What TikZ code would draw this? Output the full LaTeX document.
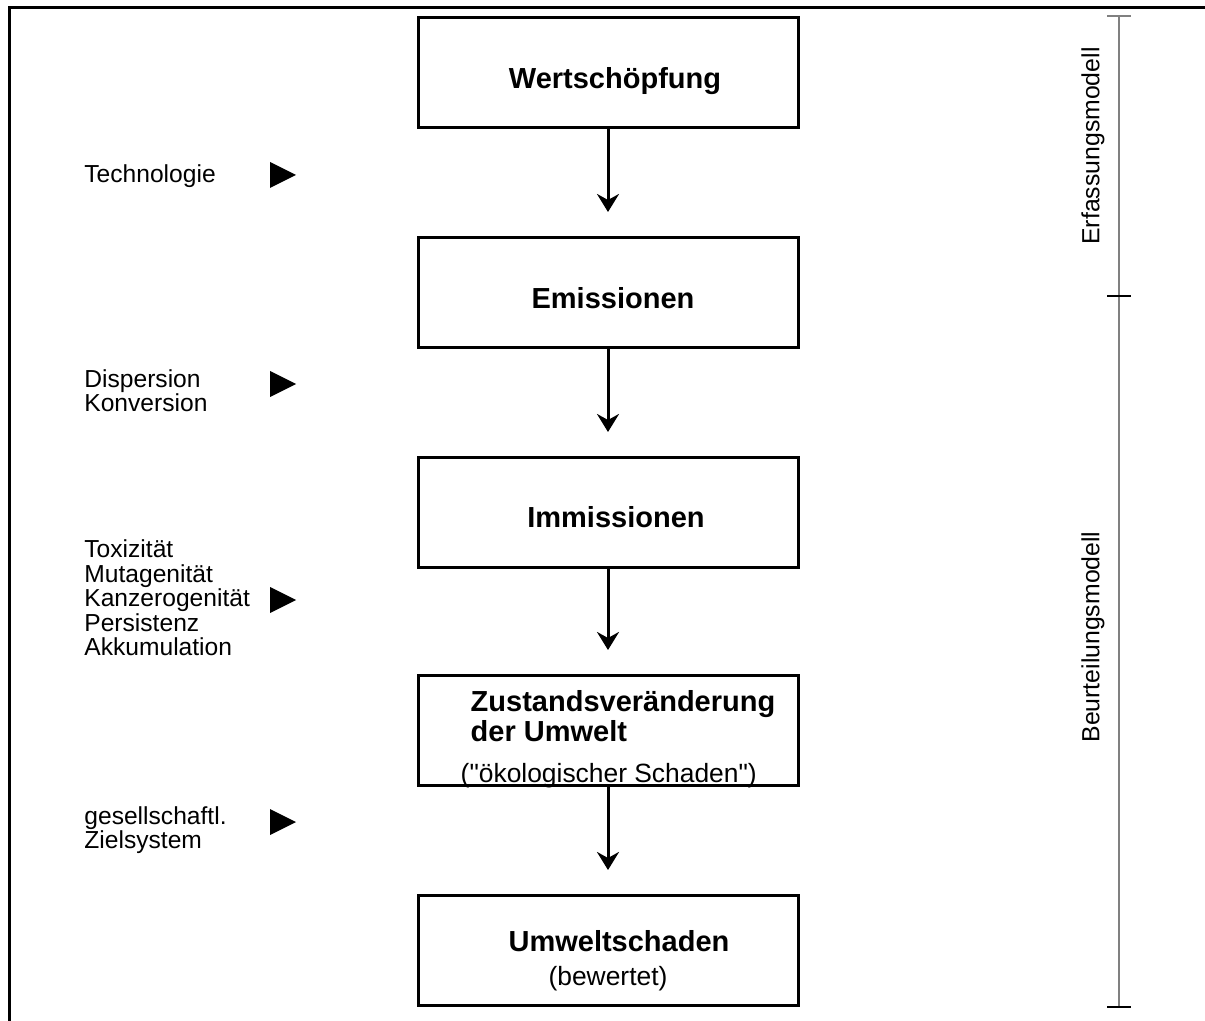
\documentclass[tikz,border=0pt]{standalone}
\usepackage{fontspec}
\setmainfont{Liberation Sans}
\usetikzlibrary{arrows.meta}
\tikzset{>/.tip={Stealth[length=9pt,width=11pt,inset=3pt]},
  box/.style={draw, line width=1.5pt, minimum width=190pt, minimum height=55pt, inner sep=0pt, align=center},
  boxtitle/.style={font=\fontsize{14.5}{17}\selectfont\bfseries},
  side/.style={anchor=west, align=left, inner sep=0pt, font=\fontsize{12.3}{12.25}\selectfont},
  flow/.style={->, line width=1.5pt, shorten >=12pt},
  pointer/.pic={\fill (0,-13) -- (26,0) -- (0,13) -- cycle;}}
\newcommand{\subtext}{\mdseries\fontsize{13.2}{13.2}\selectfont}
\newcommand{\boxtext}[3]{\hspace*{#1}\raisebox{-#2}[\height][\depth]{#3}}
\newcommand{\dquote}{\XeTeXglyph\XeTeXcharglyph"22\relax}

\begin{document}
\begin{tikzpicture}[x=0.5pt,y=-0.5pt]
\useasboundingbox (0,0) rectangle (1205,1021);
\draw[line width=1.5pt] (9,1030) -- (9,8) -- (1215,8);

\node[box, boxtitle] (wert) at (608,73)  {\boxtext{7pt}{4pt}{Wertschöpfung}};
\node[box, boxtitle] (emis) at (608,292.5)  {\boxtext{5pt}{3pt}{Emissionen}};
\node[box, boxtitle] (immi) at (608,512.5)  {\boxtext{8pt}{2.5pt}{Immissionen}};
\node[box, boxtitle, font=\fontsize{14.5}{14.5}\selectfont\bfseries] (zust) at (608,730.5)
  {\boxtext{15pt}{5pt}{\begin{tabular}{@{}l@{}}Zustandsveränderung\\der Umwelt\\[6pt]
   \hspace*{-5pt}\subtext(\dquote ökologischer Schaden\dquote)\end{tabular}}};
\node[box, boxtitle] (schad) at (608,950.5)
  {\boxtext{0pt}{5.5pt}{\begin{tabular}{@{}c@{}}\hspace*{11pt}Umweltschaden\\\subtext(bewertet)\end{tabular}}};

\node[side] (tech) at (84,176) {Technologie};
\node[side] (disp) at (84,390.5) {Dispersion\\Konversion};
\node[side] (tox) at (84,598) {Toxizität\\Mutagenität\\Kanzerogenität\\Persistenz\\Akkumulation};
\node[side] (ziel) at (84,830) {gesellschaftl.\\Zielsystem};

\pic at (270,175) {pointer};
\pic at (270,384) {pointer};
\pic at (270,600) {pointer};
\pic at (270,822) {pointer};

\path[flow] (wert) edge (emis);
\path[flow] (emis) edge (immi);
\path[flow] (immi) edge (zust);
\path[flow] (zust) edge (schad);

\coordinate (btop) at (1119,16);
\coordinate (bmid) at (1119,296);
\coordinate (bbot) at (1119,1007);
\draw[gray, line width=1pt] (btop) -- (bbot);
\draw[gray, line width=1pt] ([xshift=-6pt]btop) -- ([xshift=6pt]btop);
\draw[line width=1pt] ([xshift=-6pt]bmid) -- ([xshift=6pt]bmid);
\draw[line width=1pt] ([xshift=-6pt]bbot) -- ([xshift=6pt]bbot);
\node[rotate=90, font=\fontsize{12.4}{14}\selectfont] (erf) at (1093,146) {Erfassungsmodell};
\node[rotate=90, font=\fontsize{12.4}{14}\selectfont] (beur) at (1093,637) {Beurteilungsmodell};
\end{tikzpicture}
\end{document}
